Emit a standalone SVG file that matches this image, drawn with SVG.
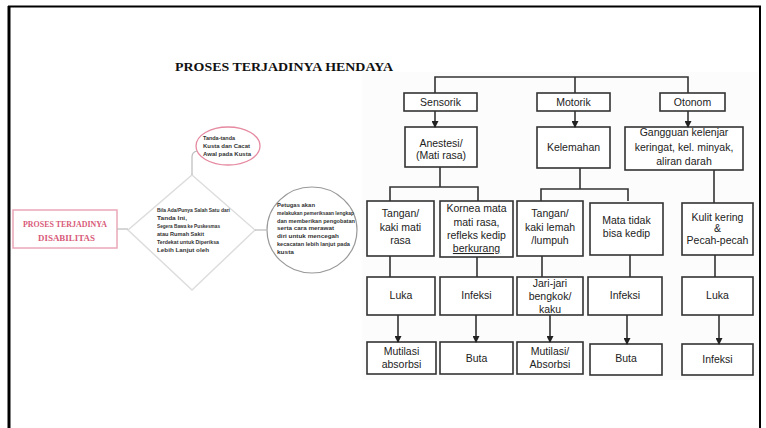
<svg xmlns="http://www.w3.org/2000/svg" width="766" height="428" viewBox="0 0 766 428">
<defs>
<marker id="ah" markerWidth="7" markerHeight="7" refX="6" refY="3.5" orient="auto" markerUnits="userSpaceOnUse">
<path d="M0,0 L7,3.5 L0,7 z" fill="#222"/>
</marker>
<style>
.box{fill:#fff;stroke:#333;stroke-width:1.6}
.t{font-family:"Liberation Sans",Arial,sans-serif;font-size:10.5px;fill:#222;text-anchor:middle}
.ln{fill:none;stroke:#333;stroke-width:1.6}
.arr{fill:none;stroke:#333;stroke-width:1.6;marker-end:url(#ah)}
.sm{font-family:"Liberation Sans",Arial,sans-serif;font-size:5.5px;fill:#333;font-weight:bold}
</style>
</defs>
<rect x="0" y="0" width="766" height="428" fill="#fff"/>
<!-- frame -->
<line x1="9" y1="6" x2="9" y2="428" stroke="#000" stroke-width="3"/>
<line x1="8" y1="6.5" x2="761" y2="6.5" stroke="#000" stroke-width="2"/>
<line x1="760" y1="6" x2="760" y2="428" stroke="#000" stroke-width="2"/>
<rect x="362" y="72" width="396" height="308" fill="#fcfcfc"/>

<text x="175" y="71" font-family="'Liberation Serif','Times New Roman',serif" font-weight="bold" font-size="12" textLength="218" lengthAdjust="spacingAndGlyphs" fill="#111">PROSES TERJADINYA HENDAYA</text>

<!-- left side -->
<g id="n-disabilitas">
<rect x="13" y="210" width="104" height="38" fill="#fff" stroke="#eaa8b8" stroke-width="1.5"/>
<text x="65" y="226.5" font-family="'Liberation Serif',serif" font-weight="bold" font-size="7.5" fill="#d85a78" text-anchor="middle" textLength="84" lengthAdjust="spacingAndGlyphs">PROSES TERJADINYA</text>
<text x="66.5" y="240.5" font-family="'Liberation Serif',serif" font-weight="bold" font-size="7.5" fill="#d85a78" text-anchor="middle" textLength="57" lengthAdjust="spacingAndGlyphs">DISABILITAS</text>
</g>
<g id="n-diamond">
<polygon points="192,175 255,230 192,290 128,230" fill="#fff" stroke="#ddd" stroke-width="1.5"/>
<text class="sm" x="157" y="212" textLength="73" lengthAdjust="spacingAndGlyphs">Bila Ada/Punya Salah Satu dari</text>
<text class="sm" x="157" y="220" textLength="30" lengthAdjust="spacingAndGlyphs">Tanda Ini,</text>
<text class="sm" x="157" y="228" textLength="63" lengthAdjust="spacingAndGlyphs">Segera Bawa ke Puskesmas</text>
<text class="sm" x="157" y="236" textLength="47" lengthAdjust="spacingAndGlyphs">atau Rumah Sakit</text>
<text class="sm" x="157" y="244" textLength="62" lengthAdjust="spacingAndGlyphs">Terdekat untuk Diperiksa</text>
<text class="sm" x="157" y="252" textLength="52" lengthAdjust="spacingAndGlyphs">Lebih Lanjut oleh</text>
</g>
<g id="n-ellipse">
<ellipse cx="228" cy="146" rx="32" ry="19" fill="#fff" stroke="#e58aa0" stroke-width="1.3"/>
<text class="sm" x="203" y="140" textLength="32" lengthAdjust="spacingAndGlyphs">Tanda-tanda</text>
<text class="sm" x="203" y="148" textLength="47" lengthAdjust="spacingAndGlyphs">Kusta dan Cacat</text>
<text class="sm" x="203" y="155.5" textLength="48" lengthAdjust="spacingAndGlyphs">Awal pada Kusta</text>
</g>
<g id="n-circle">
<ellipse cx="312" cy="230" rx="45" ry="43" fill="#fff" stroke="#999" stroke-width="1.2"/>
<text class="sm" x="277" y="207" textLength="38" lengthAdjust="spacingAndGlyphs">Petugas akan</text>
<text class="sm" x="277" y="215" textLength="77" lengthAdjust="spacingAndGlyphs">melakukan pemeriksaan lengkap</text>
<text class="sm" x="277" y="222.6" textLength="78" lengthAdjust="spacingAndGlyphs">dan memberikan pengobatan</text>
<text class="sm" x="277" y="230.3" textLength="57" lengthAdjust="spacingAndGlyphs">serta cara merawat</text>
<text class="sm" x="277" y="238" textLength="62" lengthAdjust="spacingAndGlyphs">diri untuk mencegah</text>
<text class="sm" x="277" y="245.8" textLength="73" lengthAdjust="spacingAndGlyphs">kecacatan lebih lanjut pada</text>
<text class="sm" x="277" y="253.5" textLength="17" lengthAdjust="spacingAndGlyphs">kusta</text>
</g>

<!-- right side nodes -->
<g id="n-sensorik"><rect class="box" x="404" y="93" width="73" height="18"/><text class="t" x="440.5" y="105.5">Sensorik</text></g>
<g id="n-motorik"><rect class="box" x="537" y="93" width="73" height="18"/><text class="t" x="573.5" y="105.5">Motorik</text></g>
<g id="n-otonom"><rect class="box" x="660" y="93" width="65" height="18"/><text class="t" x="692.5" y="105.5">Otonom</text></g>

<g id="n-anestesi"><rect class="box" x="405" y="127" width="72" height="40"/><text class="t" x="441" y="146.5">Anestesi/</text><text class="t" x="441" y="158.5">(Mati rasa)</text></g>
<g id="n-kelemahan"><rect class="box" x="537" y="127" width="73" height="41"/><text class="t" x="573.5" y="151">Kelemahan</text></g>
<g id="n-gangguan"><rect class="box" x="625" y="127" width="118" height="43"/><text class="t" x="684" y="135.5">Gangguan kelenjar</text><text class="t" x="684" y="151">keringat, kel. minyak,</text><text class="t" x="684" y="164.5">aliran darah</text></g>

<g id="n-tangan1"><rect class="box" x="367" y="201" width="67" height="55"/><text class="t" x="400.5" y="217">Tangan/</text><text class="t" x="400.5" y="231">kaki mati</text><text class="t" x="400.5" y="244">rasa</text></g>
<g id="n-kornea"><rect class="box" x="440" y="201" width="73" height="56"/><text class="t" x="476.5" y="211.5">Kornea mata</text><text class="t" x="476.5" y="225.5">mati rasa,</text><text class="t" x="476.5" y="238.5">refleks kedip</text><text class="t" x="476.5" y="252" text-decoration="underline">berkurang</text></g>
<g id="n-tangan2"><rect class="box" x="517" y="201" width="66" height="55"/><text class="t" x="550" y="217">Tangan/</text><text class="t" x="550" y="231">kaki lemah</text><text class="t" x="550" y="244">/lumpuh</text></g>
<g id="n-matatidak"><rect class="box" x="590" y="203" width="73" height="52"/><text class="t" x="626.5" y="224">Mata tidak</text><text class="t" x="626.5" y="237">bisa kedip</text></g>
<g id="n-kulit"><rect class="box" x="682" y="203" width="71" height="52"/><text class="t" x="717.5" y="220.5">Kulit kering</text><text class="t" x="717.5" y="232">&amp;</text><text class="t" x="717.5" y="244">Pecah-pecah</text></g>

<g id="n-luka1"><rect class="box" x="367" y="277" width="68" height="38"/><text class="t" x="401" y="299">Luka</text></g>
<g id="n-infeksi1"><rect class="box" x="440" y="277" width="73" height="38"/><text class="t" x="476.5" y="299">Infeksi</text></g>
<g id="n-jari"><rect class="box" x="517" y="277" width="66" height="38"/><text class="t" x="550" y="287">Jari-jari</text><text class="t" x="550" y="300">bengkok/</text><text class="t" x="550" y="313">kaku</text></g>
<g id="n-infeksi2"><rect class="box" x="588" y="277" width="74" height="38"/><text class="t" x="625" y="299">Infeksi</text></g>
<g id="n-luka2"><rect class="box" x="682" y="277" width="71" height="38"/><text class="t" x="717.5" y="299">Luka</text></g>

<g id="n-mutilasi1"><rect class="box" x="367" y="342" width="69" height="32"/><text class="t" x="401.5" y="354.5">Mutilasi</text><text class="t" x="401.5" y="367.5">absorbsi</text></g>
<g id="n-buta1"><rect class="box" x="440" y="342" width="73" height="32"/><text class="t" x="476.5" y="361.5">Buta</text></g>
<g id="n-mutilasi2"><rect class="box" x="517" y="342" width="66" height="32"/><text class="t" x="550" y="354.5">Mutilasi/</text><text class="t" x="550" y="367.5">Absorbsi</text></g>
<g id="n-buta2"><rect class="box" x="590" y="344" width="72" height="31"/><text class="t" x="626" y="361.5">Buta</text></g>
<g id="n-infeksi3"><rect class="box" x="682" y="344" width="71" height="31"/><text class="t" x="717.5" y="363">Infeksi</text></g>

<!-- connectors -->
<g id="connectors">
<line x1="117" y1="229" x2="128" y2="229" stroke="#bbb" stroke-width="1.2"/>
<path d="M192,175 V157 Q192,152 197,151" fill="none" stroke="#bbb" stroke-width="1.2"/>
<line x1="255" y1="230" x2="267" y2="230" stroke="#bbb" stroke-width="1.2"/>

<path class="ln" d="M435,93 V77 H688 V93"/>
<line class="ln" x1="575" y1="77" x2="575" y2="93"/>
<line class="arr" x1="435" y1="111" x2="435" y2="127"/>
<line class="arr" x1="575" y1="111" x2="575" y2="127"/>
<line class="arr" x1="688" y1="111" x2="688" y2="127"/>

<path class="ln" d="M440,167 V187 M390,201 V187 H478 V201"/>
<path class="ln" d="M580,168 V189 M541,201 V189 H628 V201"/>
<line class="ln" x1="714" y1="170" x2="714" y2="203"/>

<line class="ln" x1="390" y1="256" x2="390" y2="277"/>
<line class="ln" x1="477" y1="257" x2="477" y2="277"/>
<line class="ln" x1="542" y1="256" x2="542" y2="277"/>
<line class="ln" x1="630" y1="255" x2="630" y2="277"/>
<line class="ln" x1="715" y1="255" x2="715" y2="277"/>

<line class="arr" x1="398" y1="315" x2="398" y2="342"/>
<line class="arr" x1="476" y1="315" x2="476" y2="342"/>
<line class="arr" x1="550" y1="315" x2="550" y2="342"/>
<line class="arr" x1="627" y1="315" x2="627" y2="344"/>
<line class="arr" x1="719" y1="315" x2="719" y2="344"/>
</g>
</svg>
